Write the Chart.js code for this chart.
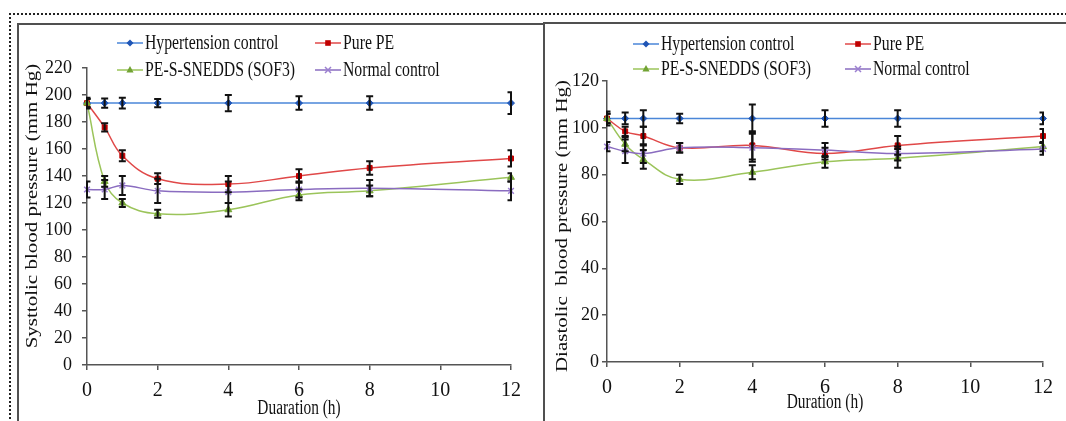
<!DOCTYPE html>
<html>
<head>
<meta charset="utf-8">
<script src="https://cdn.jsdelivr.net/npm/chart.js@4.4.1/dist/chart.umd.min.js"></script>
<style>
  html,body{margin:0;padding:0;background:#fff;}
  body{width:1066px;height:421px;overflow:hidden;position:relative;}
  .frame{position:absolute;left:9px;top:13px;width:1100px;height:500px;border-top:2px dotted #222;border-left:2px dotted #222;}
  .ln{position:absolute;background:#505050;}
  canvas{position:absolute;}
</style>
</head>
<body>
<div class="frame"></div>
<div class="ln" style="left:17px;top:23px;width:527px;height:2px;"></div>
<div class="ln" style="left:17px;top:23px;width:2px;height:400px;"></div>
<div class="ln" style="left:543px;top:22px;width:2px;height:400px;"></div>
<div class="ln" style="left:543px;top:22px;width:530px;height:2px;"></div>
<canvas id="c1" width="523" height="395" style="left:19px;top:26px;width:523px;height:395px;"></canvas>
<canvas id="c2" width="520" height="396" style="left:546px;top:25px;width:520px;height:396px;"></canvas>
<script>
// ---------- data ----------
const times = [0, 0.5, 1, 2, 4, 6, 8, 12];
const seriesNames = ['Hypertension control', 'Pure PE', 'PE-S-SNEDDS (SOF3)', 'Normal control'];

// Systolic (mm Hg)
const sysHyper     = [194, 194, 194, 194, 194, 194, 194, 194];
const sysHyperErr  = [4, 3.5, 4, 3, 6, 5, 5, 8];
const sysPure      = [194, 176, 155, 138, 134, 140, 146, 153];
const sysPureErr   = [3, 3, 4, 4, 6, 5, 5, 6];
const sysSof       = [194, 136, 120, 112, 115, 126, 129, 139];
const sysSofErr    = [3, 4, 3, 3, 5, 4, 4, 3];
const sysNormal    = [130, 130, 133, 129, 128, 130, 131, 129];
const sysNormalErr = [6, 7, 7, 9, 8, 6, 6, 7];

// Diastolic (mm Hg)
const diaHyper     = [104, 104, 104, 104, 104, 104, 104, 104];
const diaHyperErr  = [3, 2.5, 3.5, 2, 6, 3.5, 3.5, 2.5];
const diaPure      = [104, 98.5, 96.5, 91.5, 92.5, 89, 92.5, 96.5];
const diaPureErr   = [2, 2, 4, 2, 6, 2.5, 4, 3];
const diaSof       = [104, 93, 86.5, 78, 81, 85.5, 87, 92];
const diaSofErr    = [2, 3, 4, 2, 3, 2.5, 4, 2];
const diaNormal    = [92, 90, 89, 91.5, 91.5, 90.5, 89, 91];
const diaNormalErr = [2, 5, 4, 2, 6, 3, 3, 2.5];

const xTickLabels = [0, 2, 4, 6, 8, 10, 12];
const sysYTicks = [0, 20, 40, 60, 80, 100, 120, 140, 160, 180, 200, 220];
const diaYTicks = [0, 20, 40, 60, 80, 100, 120];

// ---------- styles ----------
const styles = [
  {line:'#4a86d8', point:'#1f55b5', shape:'rectRot', r:3.5},
  {line:'#e04848', point:'#c00000', shape:'rect', r:3.5},
  {line:'#9bc45a', point:'#72a334', shape:'triangle', r:4},
  {line:'#8a6cc0', point:'#9b7fd0', shape:'crossRot', r:4}
];
const SERIF = '"Liberation Serif", "Times New Roman", serif';

function drawScaledText(ctx, text, x, y, size, sx, align, rotate) {
  ctx.save();
  ctx.translate(x, y);
  if (rotate) { ctx.rotate(-Math.PI/2); ctx.scale(1, sx); }
  else ctx.scale(sx, 1);
  ctx.font = size + 'px ' + SERIF;
  ctx.fillStyle = '#111';
  ctx.textAlign = align;
  ctx.textBaseline = 'middle';
  ctx.fillText(text, 0, 0);
  ctx.restore();
}

function drawMarker(ctx, st, x, y) {
  ctx.save();
  ctx.fillStyle = st.point; ctx.strokeStyle = st.point; ctx.lineWidth = 1.5;
  const r = st.r;
  ctx.beginPath();
  if (st.shape === 'rectRot') { ctx.moveTo(x, y-r); ctx.lineTo(x+r, y); ctx.lineTo(x, y+r); ctx.lineTo(x-r, y); ctx.closePath(); ctx.fill(); }
  else if (st.shape === 'rect') { ctx.fillRect(x-r*0.8, y-r*0.8, r*1.6, r*1.6); }
  else if (st.shape === 'triangle') { ctx.moveTo(x, y-r); ctx.lineTo(x+r*0.9, y+r*0.6); ctx.lineTo(x-r*0.9, y+r*0.6); ctx.closePath(); ctx.fill(); }
  else { const d = r*0.75; ctx.moveTo(x-d,y-d); ctx.lineTo(x+d,y+d); ctx.moveTo(x+d,y-d); ctx.lineTo(x-d,y+d); ctx.stroke(); }
  ctx.restore();
}

const panelPlugin = {
  id: 'panelExtras',
  afterDatasetsDraw(chart, args, opts) {
    const ctx = chart.ctx, xs = chart.scales.x, ys = chart.scales.y, a = chart.chartArea;
    ctx.save();
    ctx.beginPath();
    ctx.rect(a.left - 1, a.top - 20, a.right - a.left + 2, a.bottom - a.top + 40);
    ctx.clip();
    ctx.strokeStyle = '#111'; ctx.lineWidth = 2;
    opts.errors.forEach((errs, di) => {
      const vals = chart.data.datasets[di].data;
      vals.forEach((p, i) => {
        const px = xs.getPixelForValue(p.x);
        const y1 = ys.getPixelForValue(p.y + errs[i]);
        const y2 = ys.getPixelForValue(p.y - errs[i]);
        ctx.beginPath();
        ctx.moveTo(px, y1); ctx.lineTo(px, y2);
        ctx.moveTo(px - 3.5, y1); ctx.lineTo(px + 3.5, y1);
        ctx.moveTo(px - 3.5, y2); ctx.lineTo(px + 3.5, y2);
        ctx.stroke();
      });
    });
    ctx.restore();
  },
  afterDraw(chart, args, opts) {
    const ctx = chart.ctx, a = chart.chartArea;
    // legend
    const L = opts.legend;
    const pos = [[L.x1, L.y1], [L.x2, L.y1], [L.x1, L.y2], [L.x2, L.y2]];
    seriesNames.forEach((name, i) => {
      const [x, y] = pos[i]; const st = styles[i];
      ctx.save();
      ctx.strokeStyle = st.line; ctx.lineWidth = 1.5;
      ctx.beginPath(); ctx.moveTo(x, y); ctx.lineTo(x + L.len, y); ctx.stroke();
      ctx.restore();
      drawMarker(ctx, st, x + L.len/2, y);
      drawScaledText(ctx, name, x + L.len + 2, y, 21, 0.75, 'left', false);
    });
    // axis titles
    drawScaledText(ctx, opts.xTitle, (a.left + a.right)/2, opts.xTitleY, 20, 0.77, 'center', false);
    drawScaledText(ctx, opts.yTitle, opts.yTitleX, opts.yTitleY, 21, 0.75, 'center', true);
  }
};

function makeChart(id, series, errs, yTicks, lay) {
  const canvas = document.getElementById(id);
  const W = canvas.width, H = canvas.height;
  const datasets = series.map((vals, i) => ({
    label: seriesNames[i],
    data: times.map((t, k) => ({x: t, y: vals[k]})),
    borderColor: styles[i].line,
    backgroundColor: styles[i].point,
    pointBackgroundColor: styles[i].point,
    pointBorderColor: styles[i].point,
    pointStyle: styles[i].shape,
    pointRadius: styles[i].r,
    pointBorderWidth: styles[i].shape === 'crossRot' ? 1.5 : 1,
    borderWidth: 1.5,
    tension: 0.4,
    clip: false,
    order: 4 - i
  }));
  return new Chart(canvas, {
    type: 'line',
    data: { datasets },
    options: {
      responsive: false,
      animation: false,
      events: [],
      layout: { padding: { left: 0, top: lay.top, right: W - lay.right, bottom: 0 } },
      plugins: {
        legend: { display: false },
        tooltip: { enabled: false },
        panelExtras: { errors: errs, legend: lay.legend, xTitle: lay.xTitle, yTitle: lay.yTitle,
                       xTitleY: lay.xTitleY, yTitleX: lay.yTitleX, yTitleY: lay.yTitleY }
      },
      scales: {
        x: {
          type: 'linear', min: xTickLabels[0], max: xTickLabels[xTickLabels.length-1],
          afterBuildTicks(s) { s.ticks = xTickLabels.map(v => ({value: v})); },
          afterFit(s) { s.height = H - lay.bottom; },
          grid: { display: true, drawOnChartArea: false, drawTicks: true, tickLength: 5, color: '#555', lineWidth: 1.5 },
          border: { display: true, color: '#555', width: 1.5 },
          ticks: { color: '#111', font: { family: SERIF, size: 20 }, padding: 9, maxRotation: 0 }
        },
        y: {
          type: 'linear', min: yTicks[0], max: yTicks[yTicks.length-1],
          afterBuildTicks(s) { s.ticks = yTicks.map(v => ({value: v})); },
          afterFit(s) { s.width = lay.left; },
          grid: { display: true, drawOnChartArea: false, drawTicks: true, tickLength: 5, color: '#555', lineWidth: 1.5 },
          border: { display: true, color: '#555', width: 1.5 },
          ticks: { color: '#111', font: { family: SERIF, size: 18 }, padding: lay.yPad }
        }
      }
    },
    plugins: [panelPlugin]
  });
}

makeChart('c1',
  [sysHyper, sysPure, sysSof, sysNormal],
  [sysHyperErr, sysPureErr, sysSofErr, sysNormalErr],
  sysYTicks,
  { left: 68, right: 492, top: 42, bottom: 339, yPad: 10,
    legend: { x1: 98, x2: 296, y1: 17, y2: 44, len: 26 },
    xTitle: 'Duaration (h)', xTitleY: 383,
    yTitle: 'Systtolic blood pressure (mm Hg)', yTitleX: 14, yTitleY: 180 });

makeChart('c2',
  [diaHyper, diaPure, diaSof, diaNormal],
  [diaHyperErr, diaPureErr, diaSofErr, diaNormalErr],
  diaYTicks,
  { left: 61, right: 497, top: 56, bottom: 337, yPad: 3,
    legend: { x1: 87, x2: 299, y1: 19, y2: 44, len: 26 },
    xTitle: 'Duration (h)', xTitleY: 378,
    yTitle: 'Diastolic  blood pressure (mm Hg)', yTitleX: 17, yTitleY: 201 });
</script>
</body>
</html>
